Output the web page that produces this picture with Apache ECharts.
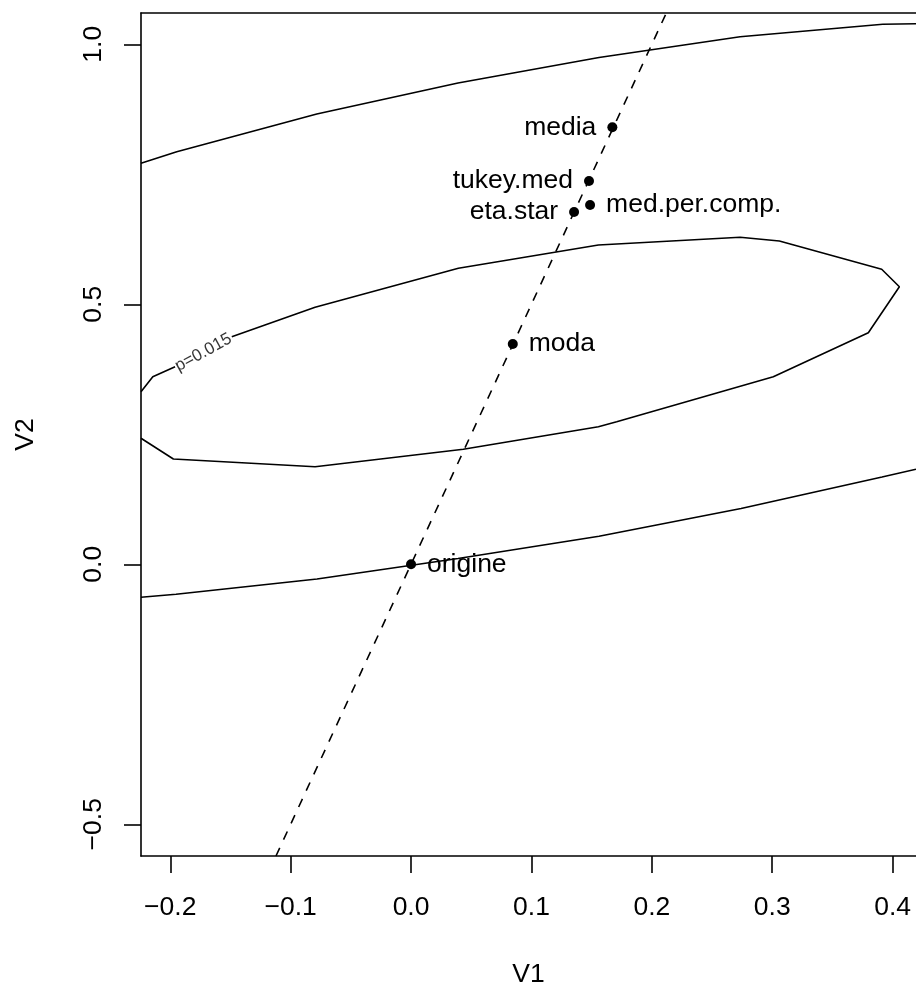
<!DOCTYPE html>
<html>
<head>
<meta charset="utf-8">
<title>V1 V2</title>
<script src="https://cdn.jsdelivr.net/npm/echarts@6/dist/echarts.min.js"></script>
<style>
html, body { margin: 0; padding: 0; background: #fff; }
#tubiao { width: 916px; height: 990px; }
</style>
</head>
<body>
<div id="tubiao"></div>
<script>
// 数据
var xRange = [-0.2243, 0.4194];
var yRange = [-0.561, 1.0602];
var xTicks = [-0.2, -0.1, 0.0, 0.1, 0.2, 0.3, 0.4];
var yTicks = [-0.5, 0.0, 0.5, 1.0];

var pointNames = ['media', 'tukey.med', 'med.per.comp.', 'eta.star', 'moda', 'origine'];
var pointX = [0.1672, 0.1478, 0.1487, 0.1354, 0.0845, 0.0];
var pointY = [0.8404, 0.7371, 0.6910, 0.6775, 0.4237, 0.0];

// 等高线
var topContour = [
    [-0.2243, 0.7712], [-0.1946, 0.7935], [-0.0783, 0.8660], [0.0390, 0.9256],
    [0.1561, 0.9746], [0.2733, 1.0146], [0.3918, 1.0385], [0.4194, 1.0396]
];
var bottomContour = [
    [-0.2243, -0.0635], [-0.1952, -0.0575], [-0.0781, -0.0283], [0.0390, 0.0112],
    [0.1561, 0.0538], [0.2741, 0.1073], [0.3912, 0.1679], [0.4194, 0.1827]
];
var innerContourA = [
    [-0.2243, 0.3319], [-0.2145, 0.3608], [-0.1960, 0.3800]
];
var innerContourB = [
    [-0.1489, 0.4377], [-0.0797, 0.4942], [0.0393, 0.5692], [0.1556, 0.6140],
    [0.2733, 0.6288], [0.3059, 0.6217], [0.3909, 0.5673], [0.4056, 0.5338],
    [0.3798, 0.4454], [0.3009, 0.3608], [0.1708, 0.2742], [0.1556, 0.2646],
    [0.0434, 0.2212], [-0.0797, 0.1877], [-0.1974, 0.2025], [-0.2243, 0.2423]
];
var contourLabelText = 'p=0.015';
var contourLabelAt = [-0.1725, 0.4073];

// 虚线
var dirLine = [[-0.1122, -0.561], [0.2120, 1.0602]];

var font = 'Liberation Sans, Arial, Helvetica, sans-serif';
var lw = 1.6;

function fmt(v) {
    return (v < 0 ? '\u2212' : '') + Math.abs(v).toFixed(1);
}

var leftLabelled = { 'media': 1, 'tukey.med': 1, 'eta.star': 1 };
var points = [];
for (var i = 0; i < pointNames.length; i++) {
    points.push({
        name: pointNames[i],
        value: [pointX[i], pointY[i]],
        label: { position: leftLabelled[pointNames[i]] ? 'left' : 'right' }
    });
}

function contourSeries(data) {
    return {
        type: 'line',
        data: data,
        symbol: 'none',
        lineStyle: { color: '#000', width: lw },
        z: 2
    };
}

var myChart = echarts.init(document.getElementById('tubiao'));
var option = {
    animation: false,
    backgroundColor: '#fff',
    textStyle: { fontFamily: font, color: '#000' },
    grid: { left: 141, right: 0, top: 13, bottom: 134, containLabel: false, outerBoundsMode: 'none' },
    xAxis: [
        {
            type: 'value',
            position: 'bottom',
            min: xRange[0],
            max: xRange[1],
            name: 'V1',
            nameLocation: 'middle',
            nameGap: 105,
            nameTextStyle: { fontSize: 26.5, color: '#000', fontFamily: font },
            axisLine: { show: true, onZero: false, lineStyle: { color: '#000', width: lw } },
            axisTick: { show: true, inside: false, length: 17, customValues: xTicks, lineStyle: { color: '#000', width: lw } },
            axisLabel: { customValues: xTicks, formatter: fmt, margin: 38.5, fontSize: 26.5, color: '#000', fontFamily: font },
            splitLine: { show: false }
        },
        {
            type: 'value',
            position: 'top',
            min: xRange[0],
            max: xRange[1],
            axisLine: { show: true, onZero: false, lineStyle: { color: '#000', width: lw } },
            axisTick: { show: false },
            axisLabel: { show: false },
            splitLine: { show: false }
        }
    ],
    yAxis: {
        type: 'value',
        min: yRange[0],
        max: yRange[1],
        name: 'V2',
        nameLocation: 'middle',
        nameGap: 102,
        nameTextStyle: { fontSize: 26.5, color: '#000', fontFamily: font },
        axisLine: { show: true, onZero: false, lineStyle: { color: '#000', width: lw } },
        axisTick: { show: true, inside: false, length: 17, customValues: yTicks, lineStyle: { color: '#000', width: lw } },
        axisLabel: { customValues: yTicks, formatter: fmt, rotate: 90, margin: 34, fontSize: 26.5, color: '#000', fontFamily: font },
        splitLine: { show: false }
    },
    series: [
        contourSeries(topContour),
        contourSeries(bottomContour),
        contourSeries(innerContourA),
        contourSeries(innerContourB),
        {
            type: 'line',
            data: dirLine,
            symbol: 'none',
            lineStyle: { color: '#000', width: lw, type: [9, 9] },
            z: 3
        },
        {
            type: 'scatter',
            data: [{ value: contourLabelAt, name: contourLabelText }],
            symbolSize: 0,
            label: {
                show: true,
                position: 'inside',
                formatter: '{b}',
                rotate: 28.5,
                fontSize: 17,
                color: '#000',
                fontFamily: font
            },
            z: 4
        },
        {
            type: 'scatter',
            data: points,
            symbol: 'circle',
            symbolSize: 10,
            itemStyle: { color: '#000', opacity: 1 },
            label: {
                show: true,
                formatter: '{b}',
                distance: 11,
                fontSize: 26.5,
                color: '#000',
                fontFamily: font
            },
            z: 5
        }
    ]
};
myChart.setOption(option);
</script>
</body>
</html>
